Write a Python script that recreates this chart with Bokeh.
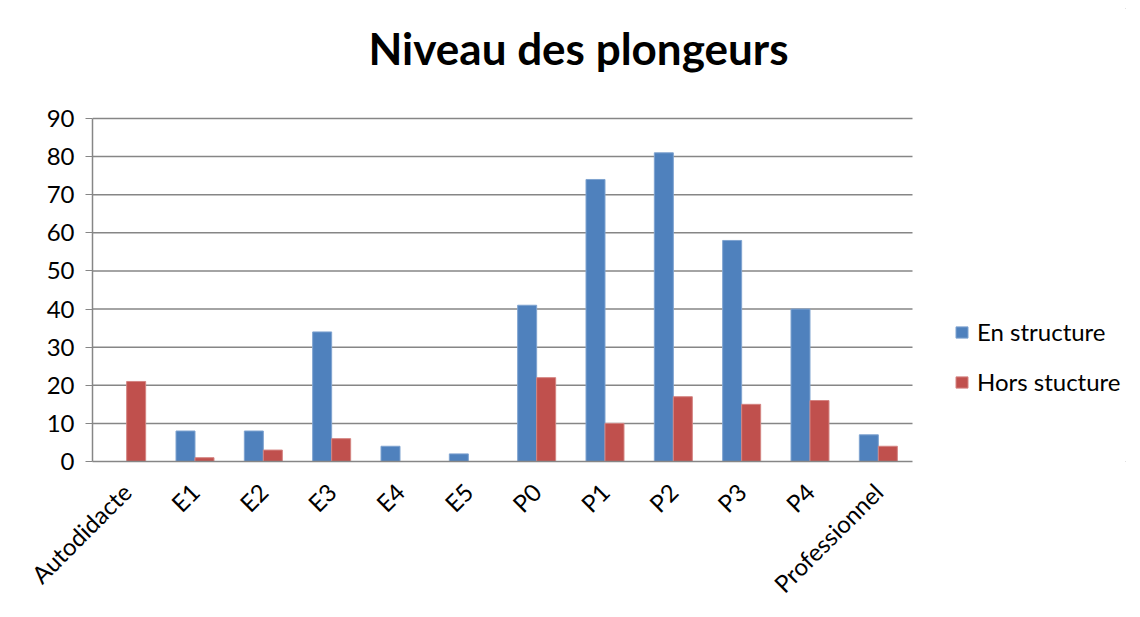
import math
import numpy as np
from bokeh.plotting import figure
from bokeh.models import ColumnDataSource, Legend, LegendItem, FixedTicker, Label, Range1d
from bokeh.embed import file_html
from bokeh.resources import INLINE

categories = ["Autodidacte", "E1", "E2", "E3", "E4", "E5", "P0", "P1", "P2", "P3", "P4", "Professionnel"]
en_structure = [0, 8, 8, 34, 4, 2, 41, 74, 81, 58, 40, 7]
hors_structure = [21, 1, 3, 6, 0, 0, 22, 10, 17, 15, 16, 4]
series_names = ["En structure", "Hors stucture"]
y_ticks = [0, 10, 20, 30, 40, 50, 60, 70, 80, 90]
title_text = "Niveau des plongeurs"

FONT = "Lato"
GRID = "#868686"
BLUE = "#4F81BD"
RED = "#C0504D"
FS = "24px"

# layout (pixels, relative to the figure's top-left)
LEFT, TOP = 92, 8
FRAME_W, FRAME_H = 1040, 453
CAT_W, VAL_H = 820, 343            # pixel width of the 12 categories, height of 0..90
n = len(categories)
y_max = y_ticks[-1]
px_x = CAT_W / n
px_y = VAL_H / y_max
x_end = FRAME_W / px_x
y_end = FRAME_H / px_y

centers = np.arange(n) + 0.5
off = 0.139
src = ColumnDataSource(dict(x_en=centers - off, x_hors=centers + off,
                            en=en_structure, hors=hors_structure))

p = figure(frame_width=FRAME_W, frame_height=FRAME_H,
           x_range=Range1d(0, x_end), y_range=Range1d(0, y_end),
           output_backend="svg", toolbar_location=None,
           min_border_left=LEFT, min_border_right=0, min_border_top=TOP, min_border_bottom=10)
p.styles = {"outline": "1px solid #868686", "outline-offset": "-7px"}
p.outline_line_color = None
p.background_fill_color = "white"
p.border_fill_color = "white"
p.xgrid.visible = False
p.ygrid.visible = False

# horizontal gridlines limited to the category area
grid_y = [t for t in y_ticks if t > 0]
p.segment(x0=[0] * len(grid_y), x1=[n] * len(grid_y), y0=grid_y, y1=grid_y,
          line_color=GRID, line_width=1.5)

r1 = p.vbar(x="x_en", top="en", width=2 * off, source=src,
            fill_color=BLUE, line_color="#7FA3D0", line_width=1)
r2 = p.vbar(x="x_hors", top="hors", width=2 * off, source=src,
            fill_color=RED, line_color="#D48482", line_width=1)

# y axis
p.yaxis.ticker = FixedTicker(ticks=y_ticks)
p.yaxis.bounds = (0, y_max)
p.yaxis.minor_tick_line_color = None
p.yaxis.major_tick_out = 7
p.yaxis.major_tick_in = 0
p.yaxis.major_tick_line_color = GRID
p.yaxis.axis_line_color = GRID
p.yaxis.axis_line_width = 1.5
p.yaxis.major_label_standoff = 11
p.yaxis.major_label_text_font = FONT
p.yaxis.major_label_text_font_size = FS
p.yaxis.major_label_text_color = "black"

# x axis with category names
p.xaxis.ticker = FixedTicker(ticks=list(centers))
p.xaxis.major_label_overrides = {float(c): lab for c, lab in zip(centers, categories)}
p.xaxis.bounds = (0, n)
p.xaxis.axis_line_color = GRID
p.xaxis.axis_line_width = 1.5
p.xaxis.major_tick_line_color = None
p.xaxis.major_tick_out = 0
p.xaxis.major_tick_in = 0
p.xaxis.minor_tick_line_color = None
p.xaxis.major_label_orientation = math.pi / 4
p.xaxis.major_label_text_font = FONT
p.xaxis.major_label_text_font_size = FS
p.xaxis.major_label_text_color = "black"
p.xaxis.major_label_standoff = 26

# title (centred near page x 578, above the plot area)
title_x = (578 - 92) / px_x
title_y = y_max + 71 / px_y
p.add_layout(Label(x=title_x, y=title_y, text=title_text, text_align="center",
                   text_baseline="alphabetic", text_font=FONT, text_font_style="bold",
                   text_font_size="44px", text_color="black"))

# legend at the right of the bars
legend = Legend(items=[LegendItem(label=series_names[0], renderers=[r1]),
                       LegendItem(label=series_names[1], renderers=[r2])],
                location=(862, 65), orientation="vertical")
legend.label_text_font = FONT
legend.label_text_font_size = FS
legend.label_text_color = "black"
legend.glyph_width = 15
legend.glyph_height = 14
legend.spacing = 21
legend.padding = 0
legend.margin = 0
legend.label_standoff = 8
legend.border_line_color = None
legend.background_fill_alpha = 0
p.add_layout(legend, "center")

open("out.html", "w").write(file_html(p, INLINE))
